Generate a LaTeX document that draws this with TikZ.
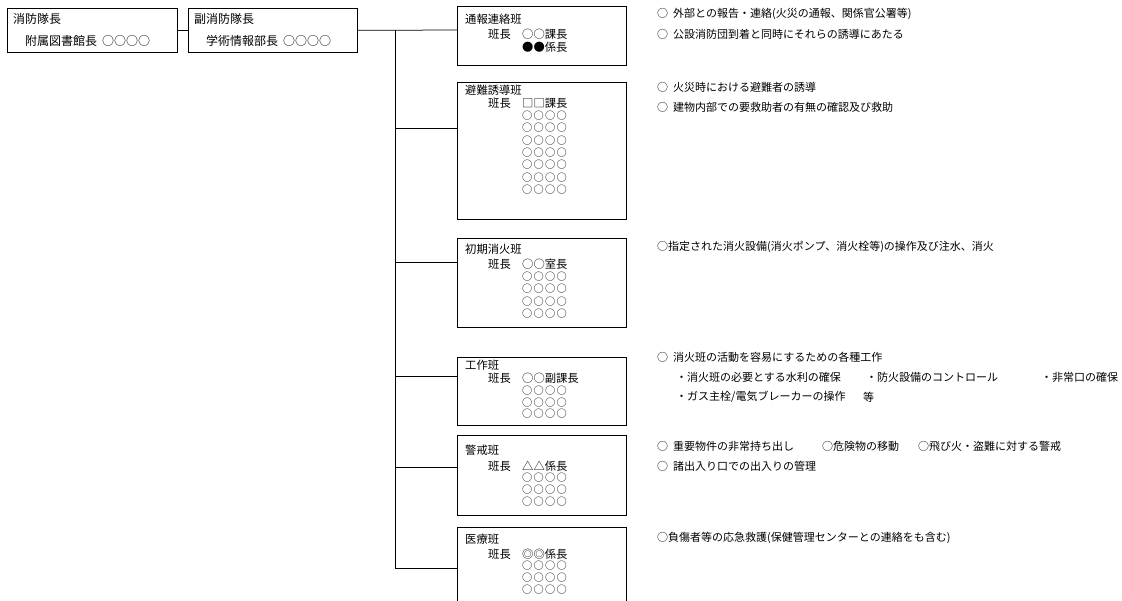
\documentclass[tikz,border=0pt]{standalone}
\usepackage{fontspec}
\setmainfont{Noto Sans CJK JP}
\newcommand{\fourcirc}{○\hspace{1.3pt}○\hspace{1.3pt}○\hspace{1.3pt}○}
\begin{document}
\begin{tikzpicture}[x=1pt,y=-1pt,
  box/.style={draw, line width=0.75pt, anchor=north west, inner sep=0, minimum width=169},
  htxt/.style={anchor=west, inner sep=0, font=\fontsize{12}{14}\selectfont},
  txt/.style={anchor=west, inner sep=0, font=\fontsize{11.3}{13}\selectfont},
  crow/.style={anchor=west, inner sep=0, font=\fontsize{10.2}{12}\selectfont},
  rtxt/.style={anchor=west, inner sep=0, font=\fontsize{11}{13}\selectfont},
  ln/.style={line width=0.75pt}]
\useasboundingbox[fill=white] (0,0) rectangle (1122,601);
\clip (0,0) rectangle (1122,601);

% top boxes
\node[box, minimum width=170, minimum height=44] (chief) at (7,8) {};
\node[box, minimum height=44] (vice) at (188,8) {};
\node[htxt] (chiefT) at (13,19) {消防隊長};
\node[htxt] (chiefN) at (25,41) {附属図書館長\hspace{5pt}○○○○};
\node[htxt] (viceT) at (194,19) {副消防隊長};
\node[htxt] (viceN) at (206,41) {学術情報部長\hspace{5pt}○○○○};

% team boxes
\node[box, minimum height=59] (t1) at (457,6) {};
\node[box, minimum height=137] (t2) at (457,82) {};
\node[box, minimum height=89] (t3) at (457,238) {};
\node[box, minimum height=68] (t4) at (457,357) {};
\node[box, minimum height=80] (t5) at (457,435) {};
\node[box, minimum height=90] (t6) at (457,527) {};

% connectors
\coordinate (jTop) at (395,30);
\coordinate (jBot) at (395,568);
\coordinate (e1) at (457,30);
\coordinate (e2) at (457,128);
\coordinate (e3) at (457,262);
\coordinate (e4) at (457,376);
\coordinate (e5) at (457,467);
\coordinate (e6) at (457,568);
\draw[ln] (chief.east) -- (vice.west);
\draw[ln] (vice.east) -- (e1);
\draw[ln] (jTop) -- (jBot);
\foreach \k in {2,...,6}{
  \draw[ln] (jTop |- e\k) -- (e\k);
}

% team 1
\node[txt] (t1T) at (465,19) {通報連絡班};
\node[txt] (t1L) at (488,34) {班長};
\node[txt] (t1a) at (522,34) {○○課長};
\node[txt] (t1b) at (522,47) {●●係長};
% team 2
\node[txt] (t2T) at (465,90) {避難誘導班};
\node[txt] (t2L) at (488,103) {班長};
\node[txt] (t2a) at (522,103) {□□課長};
\foreach \i in {0,...,6}{
  \node[crow] (t2r\i) at (522,115.5+12.4*\i) {\fourcirc};
}
% team 3
\node[txt] (t3T) at (465,249) {初期消火班};
\node[txt] (t3L) at (488,264) {班長};
\node[txt] (t3a) at (522,264) {○○室長};
\foreach \i in {0,...,3}{
  \node[crow] (t3r\i) at (522,276.5+12.4*\i) {\fourcirc};
}
% team 4
\node[txt] (t4T) at (465,365) {工作班};
\node[txt] (t4L) at (488,378) {班長};
\node[txt] (t4a) at (522,378) {○○副課長};
\foreach \i in {0,...,2}{
  \node[crow] (t4r\i) at (522,391+11.4*\i) {\fourcirc};
}
% team 5
\node[txt] (t5T) at (465,450) {警戒班};
\node[txt] (t5L) at (488,466) {班長};
\node[txt] (t5a) at (522,466) {△△係長};
\foreach \i in {0,...,2}{
  \node[crow] (t5r\i) at (522,478+11.9*\i) {\fourcirc};
}
% team 6
\node[txt] (t6T) at (465,539) {医療班};
\node[txt] (t6L) at (488,554) {班長};
\node[txt] (t6a) at (522,554) {◎◎係長};
\foreach \i in {0,...,2}{
  \node[crow] (t6r\i) at (522,566+11.9*\i) {\fourcirc};
}

% duties
\node[rtxt] (d1a) at (657,14) {○\hspace{5pt}外部との報告・連絡(火災の通報、関係官公署等)};
\node[rtxt] (d1b) at (657,34) {○\hspace{5pt}公設消防団到着と同時にそれらの誘導にあたる};
\node[rtxt] (d2a) at (657,87) {○\hspace{5pt}火災時における避難者の誘導};
\node[rtxt] (d2b) at (657,107) {○\hspace{5pt}建物内部での要救助者の有無の確認及び救助};
\node[rtxt] (d3) at (657,247) {○指定された消火設備(消火ポンプ、消火栓等)の操作及び注水、消火};
\node[rtxt] (d4a) at (657,357) {○\hspace{5pt}消火班の活動を容易にするための各種工作};
\node[rtxt] (d4b) at (676,377) {・消火班の必要とする水利の確保};
\node[rtxt] (d4c) at (866,377) {・防火設備のコントロール};
\node[rtxt] (d4d) at (1041,377) {・非常口の確保};
\node[rtxt] (d4e) at (676,397) {・ガス主栓/電気ブレーカーの操作};
\node[rtxt] (d4f) at (863,397) {等};
\node[rtxt] (d5a) at (657,446) {○\hspace{5pt}重要物件の非常持ち出し};
\node[rtxt] (d5b) at (822,446) {○危険物の移動};
\node[rtxt] (d5c) at (918,446) {○飛び火・盗難に対する警戒};
\node[rtxt] (d5d) at (657,466) {○\hspace{5pt}諸出入り口での出入りの管理};
\node[rtxt] (d6) at (657,538) {○負傷者等の応急救護(保健管理センターとの連絡をも含む)};
\end{tikzpicture}
\end{document}
